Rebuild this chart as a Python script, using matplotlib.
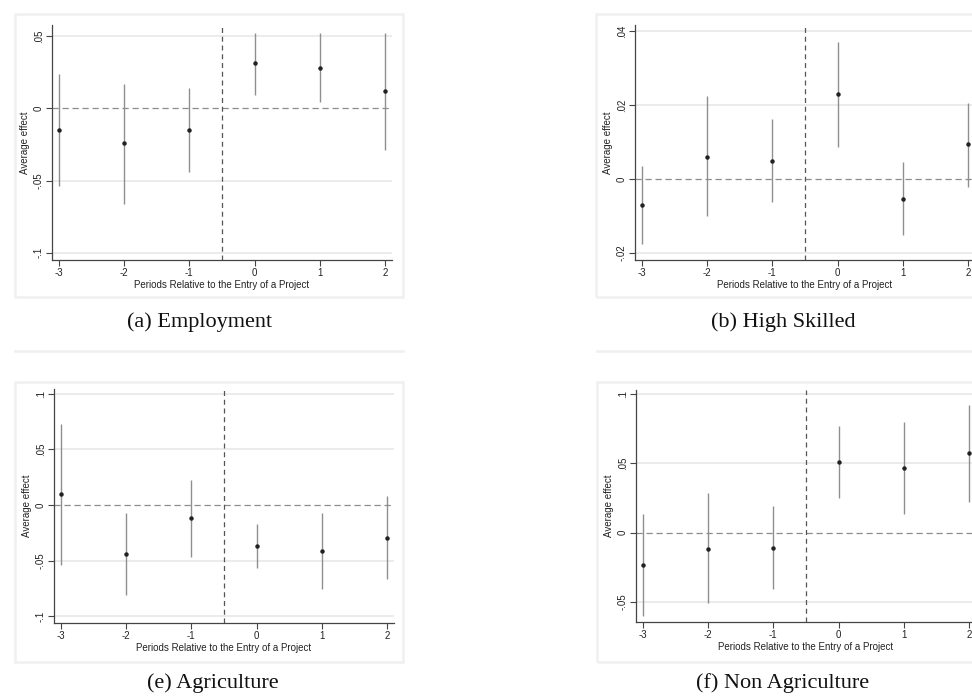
import numpy as np
import matplotlib.pyplot as plt
from matplotlib.patches import Rectangle

W, H = 972, 699

# event-time periods
periods = [-3, -2, -1, 0, 1, 2]

# (a) Employment
emp_est = [-0.015, -0.024, -0.015, 0.031, 0.028, 0.012]
emp_lo = [-0.054, -0.066, -0.044, 0.009, 0.004, -0.029]
emp_hi = [0.024, 0.017, 0.014, 0.052, 0.052, 0.052]

# (b) High Skilled
hs_est = [-0.0071, 0.0060, 0.0049, 0.0230, -0.0054, 0.0095]
hs_lo = [-0.0176, -0.0100, -0.0063, 0.0087, -0.0152, -0.0021]
hs_hi = [0.0035, 0.0223, 0.0163, 0.0369, 0.0046, 0.0206]

# (e) Agriculture
agr_est = [0.0099, -0.044, -0.0114, -0.037, -0.0415, -0.0294]
agr_lo = [-0.054, -0.081, -0.0465, -0.0565, -0.076, -0.067]
agr_hi = [0.073, -0.0075, 0.0225, -0.017, -0.0075, 0.008]

# (f) Non Agriculture
nagr_est = [-0.023, -0.0115, -0.011, 0.0512, 0.0467, 0.0572]
nagr_lo = [-0.060, -0.0507, -0.0406, 0.025, 0.0137, 0.0219]
nagr_hi = [0.0137, 0.0286, 0.0195, 0.077, 0.080, 0.092]

emp_ticks = [0.05, 0, -0.05, -0.1]
emp_labels = ['.05', '0', '-.05', '-.1']
hs_ticks = [0.04, 0.02, 0, -0.02]
hs_labels = ['.04', '.02', '0', '-.02']
agr_ticks = [0.1, 0.05, 0, -0.05, -0.1]
agr_labels = ['.1', '.05', '0', '-.05', '-.1']
nagr_ticks = [0.1, 0.05, 0, -0.05]
nagr_labels = ['.1', '.05', '0', '-.05']

captions = ['(a) Employment', '(b) High Skilled', '(e) Agriculture', '(f) Non Agriculture']

plt.rcParams['font.family'] = ['Liberation Sans', 'DejaVu Sans']


def px(l, t, r, b):
    # pixel box -> figure fraction rect
    return [l / W, 1 - b / H, (r - l) / W, (b - t) / H]


fig = plt.figure(figsize=(W / 100, H / 100), dpi=100)
fig.patch.set_facecolor('white')

# light grey graph-region frames (Stata style)
frames = [(15, 14, 403, 297), (596, 14, 990, 297), (15, 382, 403, 662), (597, 382, 990, 662)]
for l, t, r, b in frames:
    fig.add_artist(Rectangle((l / W, 1 - b / H), (r - l) / W, (b - t) / H,
                             transform=fig.transFigure, fill=False,
                             edgecolor='#f0f0f0', lw=1.8))
# remnants of the panels above the bottom row
for l, r in [(15, 403), (597, 990)]:
    fig.add_artist(plt.Line2D([l / W, r / W], [1 - 351 / H, 1 - 351 / H],
                              transform=fig.transFigure, color='#efefef', lw=1.8))

panels = [
    (px(52, 25, 392, 260), emp_est, emp_lo, emp_hi, (-0.105, 0.0576), emp_ticks, emp_labels),
    (px(635, 25, 975, 260), hs_est, hs_lo, hs_hi, (-0.0219, 0.0416), hs_ticks, hs_labels),
    (px(54, 389, 394, 623), agr_est, agr_lo, agr_hi, (-0.1063, 0.1045), agr_ticks, agr_labels),
    (px(636, 390, 976, 622), nagr_est, nagr_lo, nagr_hi, (-0.0644, 0.1029), nagr_ticks, nagr_labels),
]

for rect, est, lo, hi, ylim, ticks, labels in panels:
    ax = fig.add_axes(rect)
    for t in ticks:
        if t != 0:
            ax.axhline(t, color='#e6e6e6', lw=1.1, zorder=0)
    ax.axhline(0, color='#8c8c8c', lw=0.9, ls=(0, (5, 3)), zorder=1)
    ax.axvline(-0.5, color='#555555', lw=0.9, ls=(0, (4, 3)), zorder=1)
    ax.vlines(periods, lo, hi, color='#8f8f8f', lw=1.0, zorder=2)
    ax.plot(periods, est, 'o', color='#222222', ms=2.2, zorder=3)
    ax.set_xlim(-3.1, 2.1)
    ax.set_ylim(*ylim)
    ax.set_xticks(periods)
    ax.set_xticklabels([str(p) for p in periods])
    ax.set_yticks(ticks)
    ax.set_yticklabels(labels, rotation=90, va='center')
    ax.tick_params(axis='both', labelsize=7, length=4, width=0.8,
                   color='#444444', labelcolor='#222222', pad=2)
    for s in ['top', 'right']:
        ax.spines[s].set_visible(False)
    for s in ['left', 'bottom']:
        ax.spines[s].set_color('#444444')
        ax.spines[s].set_linewidth(0.9)
    ax.set_xlabel('Periods Relative to the Entry of a Project', fontsize=7,
                  color='#222222', labelpad=1)
    ax.set_ylabel('Average effect', fontsize=7, color='#222222', labelpad=3)
    ax.set_facecolor('white')

cap_pos = [(200, 322), (783, 322), (213, 683), (783, 683)]
for txt, (x, y) in zip(captions, cap_pos):
    fig.text(x / W, 1 - y / H, txt, ha='center', va='center', fontsize=16,
             family=['Liberation Serif', 'DejaVu Serif'], color='#111111')

fig.savefig('out.png', dpi=100)
